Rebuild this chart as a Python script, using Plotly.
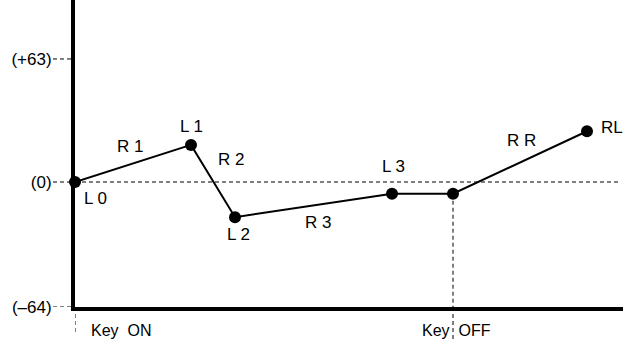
import plotly.graph_objects as go

# Envelope breakpoints (time, level)
point_names = ["L 0", "L 1", "L 2", "L 3", "Key OFF", "RL"]
times = [0, 116, 160, 317, 378, 512]
levels = [0, 19, -18, -6, -6, 26]

# Segment / level labels and their positions (time, level)
label_text = ["L 0", "R 1", "L 1", "R 2", "L 2", "R 3", "L 3", "R R", "RL"]
label_t = [20, 55, 116, 156, 163, 243, 318, 446, 537]
label_v = [-8.6, 18, 28.3, 11.4, -27.1, -20.9, 7.8, 21.1, 27.8]

# Level axis ticks
tick_vals = [63, 0, -64]
tick_text = ["(+63)", "(0)", "(–64)"]

PLOT_W, PLOT_H = 548, 307
T_RANGE = [0, 548]
Y_RANGE = [-64, 93.2]
FONT = "Liberation Sans, Arial, sans-serif"
DASH = "4px,3px"

fig = go.Figure()

fig.add_trace(go.Scatter(
    x=times, y=levels, mode="lines+markers",
    line=dict(color="black", width=2),
    marker=dict(color="black", size=12),
    hoverinfo="skip", cliponaxis=False,
))

shapes = []
# zero reference line
shapes.append(dict(type="line", xref="x", yref="y", x0=0, x1=543, y0=0, y1=0,
                   line=dict(color="black", width=1, dash=DASH)))
# dashed tick leaders
for v in tick_vals:
    shapes.append(dict(type="line", xref="paper", yref="y",
                       x0=-22 / PLOT_W, x1=-2 / PLOT_W, y0=v, y1=v,
                       line=dict(color="black", width=1, dash=DASH)))
# Key ON / Key OFF markers
shapes.append(dict(type="line", xref="x", yref="paper", x0=0, x1=0,
                   y0=0, y1=-26 / PLOT_H,
                   line=dict(color="black", width=1, dash=DASH)))
shapes.append(dict(type="line", xref="x", yref="y", x0=times[4], x1=times[4],
                   y0=levels[4], y1=Y_RANGE[0],
                   line=dict(color="black", width=1, dash=DASH)))
shapes.append(dict(type="line", xref="x", yref="paper", x0=times[4], x1=times[4],
                   y0=0, y1=-33 / PLOT_H,
                   line=dict(color="black", width=1, dash=DASH)))

label_font = dict(size=17, color="black", family=FONT)
key_font = dict(size=16, color="black", family=FONT)
annotations = []
for txt, t, v in zip(label_text, label_t, label_v):
    annotations.append(dict(x=t, y=v, xref="x", yref="y", text=txt,
                            xanchor="center", yanchor="middle",
                            showarrow=False, font=label_font))
annotations.append(dict(x=46, y=-23 / PLOT_H, xref="x", yref="paper",
                        text="Key\u00a0\u00a0ON", xanchor="center", yanchor="middle",
                        showarrow=False, font=key_font))
annotations.append(dict(x=381, y=-23 / PLOT_H, xref="x", yref="paper",
                        text="Key\u00a0\u00a0OFF", xanchor="center", yanchor="middle",
                        showarrow=False, font=key_font))

fig.update_layout(
    width=633, height=349,
    margin=dict(l=75, r=10, t=0, b=42),
    paper_bgcolor="white", plot_bgcolor="white",
    showlegend=False,
    shapes=shapes, annotations=annotations,
    xaxis=dict(range=T_RANGE, showgrid=False, zeroline=False,
               showline=True, linewidth=4, linecolor="black",
               showticklabels=False, ticks="", fixedrange=True),
    yaxis=dict(range=Y_RANGE, showgrid=False, zeroline=False,
               showline=True, linewidth=4, linecolor="black",
               tickvals=tick_vals, ticktext=tick_text, ticks="",
               ticklabelstandoff=16,
               tickfont=dict(size=17, color="black", family=FONT),
               fixedrange=True),
)

fig.write_html("out.html", config={"displayModeBar": False})
